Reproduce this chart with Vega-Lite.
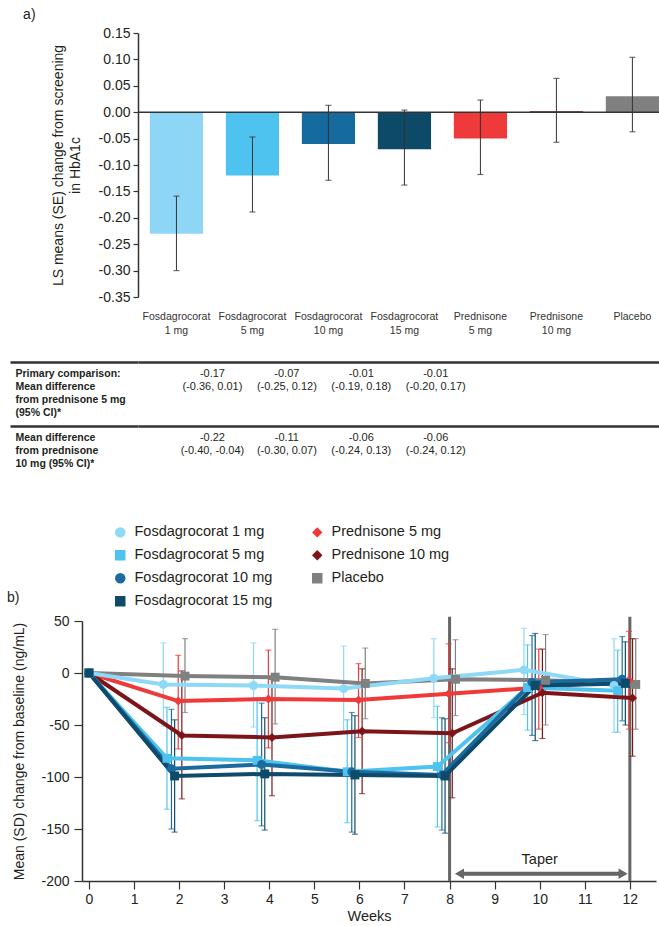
{
  "$schema": "https://vega.github.io/schema/vega-lite/v6.json",
  "background": "white",
  "padding": {"left": 6, "top": 8, "right": 0, "bottom": 0},
  "spacing": -13,
  "config": {
    "font": "Liberation Sans",
    "view": {"stroke": null},
    "axis": {"labelColor": "#231f20", "titleColor": "#231f20", "domainColor": "#333333", "tickColor": "#333333", "grid": false, "titleFontWeight": "normal", "labelFontSize": 14, "titleFontSize": 14, "labelOverlap": false},
    "title": {"color": "#231f20", "fontWeight": "normal", "fontSize": 14}
  },
  "resolve": {"scale": {"x": "independent", "y": "independent", "color": "independent", "shape": "independent"}},
  "vconcat": [
    {
      "width": 521,
      "height": 264,
      "title": {"text": "a)", "anchor": "start", "frame": "bounds", "dx": -28, "offset": 4},
      "data": {"values": [
        {"cat": "Fosdagrocorat 1 mg", "mean": -0.23, "lo": -0.30, "hi": -0.159},
        {"cat": "Fosdagrocorat 5 mg", "mean": -0.12, "lo": -0.189, "hi": -0.047},
        {"cat": "Fosdagrocorat 10 mg", "mean": -0.06, "lo": -0.129, "hi": 0.013},
        {"cat": "Fosdagrocorat 15 mg", "mean": -0.07, "lo": -0.138, "hi": 0.004},
        {"cat": "Prednisone 5 mg", "mean": -0.05, "lo": -0.118, "hi": 0.023},
        {"cat": "Prednisone 10 mg", "mean": 0.002, "lo": -0.057, "hi": 0.064},
        {"cat": "Placebo", "mean": 0.03, "lo": -0.037, "hi": 0.104}
      ]},
      "encoding": {
        "x": {"field": "cat", "type": "nominal", "sort": null,
          "scale": {"domain": ["Fosdagrocorat 1 mg", "Fosdagrocorat 5 mg", "Fosdagrocorat 10 mg", "Fosdagrocorat 15 mg", "Prednisone 5 mg", "Prednisone 10 mg", "Placebo"], "paddingInner": 0.3, "paddingOuter": 0.078, "align": 1},
          "axis": {"title": null, "domain": false, "ticks": false, "labelAngle": 0, "labelPadding": 14, "labelFontSize": 10.5, "labelLineHeight": 14, "labelOverlap": false, "labelColor": "#333333",
            "labelExpr": "indexof(datum.label, ' ') > 0 ? [substring(datum.label, 0, indexof(datum.label, ' ')), substring(datum.label, indexof(datum.label, ' ') + 1)] : datum.label"}}
      },
      "layer": [
        {
          "mark": {"type": "bar"},
          "encoding": {
            "y": {"field": "mean", "type": "quantitative",
              "scale": {"domain": [-0.35, 0.15], "nice": false, "zero": false},
              "axis": {"title": ["LS means (SE) change from screening", "in HbA1c"], "titleLineHeight": 17, "titlePadding": 16,
                "values": [0.15, 0.1, 0.05, 0, -0.05, -0.1, -0.15, -0.2, -0.25, -0.3, -0.35], "labelOverlap": false, "labelSeparation": 0,
                "labelExpr": "(datum.value < -0.001 ? '-' : '') + format(abs(datum.value), '.2f')",
                "tickSize": 5, "labelPadding": 3, "domainWidth": 1.5, "tickWidth": 1.2}},
            "color": {"field": "cat", "type": "nominal",
              "scale": {"domain": ["Fosdagrocorat 1 mg", "Fosdagrocorat 5 mg", "Fosdagrocorat 10 mg", "Fosdagrocorat 15 mg", "Prednisone 5 mg", "Prednisone 10 mg", "Placebo"],
                "range": ["#8ed6f5", "#4fc3ef", "#156a9e", "#0d4a67", "#ee3a3b", "#7d1518", "#808080"]},
              "legend": null}
          }
        },
        {
          "data": {"values": [{"zero": 0}]},
          "mark": {"type": "rule", "color": "#333333", "strokeWidth": 1.5},
          "encoding": {"x": null, "y": {"field": "zero", "type": "quantitative",
              "axis": {"title": ["LS means (SE) change from screening", "in HbA1c"], "titleLineHeight": 17, "titlePadding": 16,
                "values": [0.15, 0.1, 0.05, 0, -0.05, -0.1, -0.15, -0.2, -0.25, -0.3, -0.35], "labelOverlap": false, "labelSeparation": 0,
                "labelExpr": "(datum.value < -0.001 ? '-' : '') + format(abs(datum.value), '.2f')",
                "tickSize": 5, "labelPadding": 3, "domainWidth": 1.5, "tickWidth": 1.2}}}
        },
        {
          "mark": {"type": "rule", "color": "#333333", "strokeWidth": 1},
          "encoding": {"y": {"field": "lo", "type": "quantitative",
              "axis": {"title": ["LS means (SE) change from screening", "in HbA1c"], "titleLineHeight": 17, "titlePadding": 16,
                "values": [0.15, 0.1, 0.05, 0, -0.05, -0.1, -0.15, -0.2, -0.25, -0.3, -0.35], "labelOverlap": false, "labelSeparation": 0,
                "labelExpr": "(datum.value < -0.001 ? '-' : '') + format(abs(datum.value), '.2f')",
                "tickSize": 5, "labelPadding": 3, "domainWidth": 1.5, "tickWidth": 1.2}}, "y2": {"field": "hi"}}
        },
        {
          "mark": {"type": "tick", "orient": "horizontal", "size": 6, "thickness": 1.2, "color": "#333333"},
          "encoding": {"y": {"field": "lo", "type": "quantitative",
              "axis": {"title": ["LS means (SE) change from screening", "in HbA1c"], "titleLineHeight": 17, "titlePadding": 16,
                "values": [0.15, 0.1, 0.05, 0, -0.05, -0.1, -0.15, -0.2, -0.25, -0.3, -0.35], "labelOverlap": false, "labelSeparation": 0,
                "labelExpr": "(datum.value < -0.001 ? '-' : '') + format(abs(datum.value), '.2f')",
                "tickSize": 5, "labelPadding": 3, "domainWidth": 1.5, "tickWidth": 1.2}}}
        },
        {
          "mark": {"type": "tick", "orient": "horizontal", "size": 6, "thickness": 1.2, "color": "#333333"},
          "encoding": {"y": {"field": "hi", "type": "quantitative",
              "axis": {"title": ["LS means (SE) change from screening", "in HbA1c"], "titleLineHeight": 17, "titlePadding": 16,
                "values": [0.15, 0.1, 0.05, 0, -0.05, -0.1, -0.15, -0.2, -0.25, -0.3, -0.35], "labelOverlap": false, "labelSeparation": 0,
                "labelExpr": "(datum.value < -0.001 ? '-' : '') + format(abs(datum.value), '.2f')",
                "tickSize": 5, "labelPadding": 3, "domainWidth": 1.5, "tickWidth": 1.2}}}
        }
      ]
    },
    {
      "width": 326,
      "height": 202,
      "view": {"fill": "white", "stroke": null},
      "data": {"values": [
        {"cat": "Fosdagrocorat 1 mg", "row": "Primary comparison:|Mean difference|from prednisone 5 mg|(95% CI)*", "text": "-0.17\n(-0.36, 0.01)"},
        {"cat": "Fosdagrocorat 5 mg", "row": "Primary comparison:|Mean difference|from prednisone 5 mg|(95% CI)*", "text": "-0.07\n(-0.25, 0.12)"},
        {"cat": "Fosdagrocorat 10 mg", "row": "Primary comparison:|Mean difference|from prednisone 5 mg|(95% CI)*", "text": "-0.01\n(-0.19, 0.18)"},
        {"cat": "Fosdagrocorat 15 mg", "row": "Primary comparison:|Mean difference|from prednisone 5 mg|(95% CI)*", "text": "-0.01\n(-0.20, 0.17)"},
        {"cat": "Fosdagrocorat 1 mg", "row": "Mean difference|from prednisone|10 mg (95% CI)*", "text": "-0.22\n(-0.40, -0.04)"},
        {"cat": "Fosdagrocorat 5 mg", "row": "Mean difference|from prednisone|10 mg (95% CI)*", "text": "-0.11\n(-0.30, 0.07)"},
        {"cat": "Fosdagrocorat 10 mg", "row": "Mean difference|from prednisone|10 mg (95% CI)*", "text": "-0.06\n(-0.24, 0.13)"},
        {"cat": "Fosdagrocorat 15 mg", "row": "Mean difference|from prednisone|10 mg (95% CI)*", "text": "-0.06\n(-0.24, 0.12)"}
      ]},
      "mark": {"type": "text", "align": "center", "baseline": "top", "dy": 6, "fontSize": 11, "lineHeight": 13, "lineBreak": "\n", "color": "#231f20"},
      "encoding": {
        "x": {"field": "cat", "type": "nominal", "sort": null,
          "scale": {"domain": ["Fosdagrocorat 1 mg", "Fosdagrocorat 5 mg", "Fosdagrocorat 10 mg", "Fosdagrocorat 15 mg", "Prednisone 5 mg", "Prednisone 10 mg", "Placebo"], "range": [0, 521], "paddingInner": 0.3, "paddingOuter": 0.078, "align": 1},
          "axis": null},
        "y": {"field": "row", "type": "nominal", "sort": null, "bandPosition": 0,
          "scale": {"domain": ["Primary comparison:|Mean difference|from prednisone 5 mg|(95% CI)*", "Mean difference|from prednisone|10 mg (95% CI)*"], "range": [-6, 122], "paddingInner": 0, "paddingOuter": 0},
          "axis": {"orient": "left", "title": null, "bandPosition": 0, "domain": false, "ticks": true, "tickSize": 128, "tickWidth": 2.5, "tickColor": "#333333",
            "grid": true, "gridWidth": 2.5, "gridColor": "#333333", "labelAlign": "left", "labelBaseline": "top", "labelPadding": -5, "labelOffset": 6,
            "labelFontWeight": "bold", "labelFontSize": 10.5, "labelLineHeight": 13, "labelLimit": 0, "labelOverlap": false,
            "labelExpr": "split(datum.label, '|')"}},
        "text": {"field": "text"}
      }
    },
    {
      "width": 521,
      "height": 260,
      "title": {"text": "b)", "anchor": "start", "frame": "bounds", "dy": 84, "dx": -6, "offset": 4},
      "data": {"values": [
        {"series": "Placebo", "week": 0, "mean": 0, "lo": null, "hi": null},
        {"series": "Placebo", "week": 2.13, "mean": -3, "lo": -38, "hi": 33},
        {"series": "Placebo", "week": 4.13, "mean": -4, "lo": -49, "hi": 42},
        {"series": "Placebo", "week": 6.13, "mean": -10, "lo": -44, "hi": 24},
        {"series": "Placebo", "week": 8.13, "mean": -6, "lo": -41, "hi": 32},
        {"series": "Placebo", "week": 10.13, "mean": -7, "lo": -50, "hi": 37},
        {"series": "Placebo", "week": 12.13, "mean": -11, "lo": -54, "hi": 33},
        {"series": "Prednisone 5 mg", "week": 0, "mean": 0, "lo": null, "hi": null},
        {"series": "Prednisone 5 mg", "week": 1.98, "mean": -27, "lo": -73, "hi": 17},
        {"series": "Prednisone 5 mg", "week": 3.98, "mean": -25, "lo": -72, "hi": 22},
        {"series": "Prednisone 5 mg", "week": 5.98, "mean": -26, "lo": -62, "hi": 9},
        {"series": "Prednisone 5 mg", "week": 7.98, "mean": -20, "lo": -67, "hi": 28},
        {"series": "Prednisone 5 mg", "week": 9.98, "mean": -14, "lo": -54, "hi": 23},
        {"series": "Prednisone 5 mg", "week": 11.98, "mean": -7, "lo": -54, "hi": 40},
        {"series": "Prednisone 10 mg", "week": 0, "mean": 0, "lo": null, "hi": null},
        {"series": "Prednisone 10 mg", "week": 2.06, "mean": -60, "lo": -121, "hi": 2},
        {"series": "Prednisone 10 mg", "week": 4.06, "mean": -62, "lo": -118, "hi": -6},
        {"series": "Prednisone 10 mg", "week": 6.06, "mean": -56, "lo": -116, "hi": 4},
        {"series": "Prednisone 10 mg", "week": 8.06, "mean": -58, "lo": -120, "hi": 4},
        {"series": "Prednisone 10 mg", "week": 10.06, "mean": -19, "lo": -63, "hi": 23},
        {"series": "Prednisone 10 mg", "week": 12.06, "mean": -24, "lo": -80, "hi": 33},
        {"series": "Fosdagrocorat 1 mg", "week": 0, "mean": 0, "lo": null, "hi": null},
        {"series": "Fosdagrocorat 1 mg", "week": 1.65, "mean": -11, "lo": -51, "hi": 29},
        {"series": "Fosdagrocorat 1 mg", "week": 3.65, "mean": -12, "lo": -52, "hi": 29},
        {"series": "Fosdagrocorat 1 mg", "week": 5.65, "mean": -15, "lo": -56, "hi": 26},
        {"series": "Fosdagrocorat 1 mg", "week": 7.65, "mean": -5, "lo": -43, "hi": 33},
        {"series": "Fosdagrocorat 1 mg", "week": 9.65, "mean": 3, "lo": -40, "hi": 43},
        {"series": "Fosdagrocorat 1 mg", "week": 11.65, "mean": -12, "lo": -57, "hi": 33},
        {"series": "Fosdagrocorat 5 mg", "week": 0, "mean": 0, "lo": null, "hi": null},
        {"series": "Fosdagrocorat 5 mg", "week": 1.73, "mean": -82, "lo": -131, "hi": -33},
        {"series": "Fosdagrocorat 5 mg", "week": 3.73, "mean": -84, "lo": -142, "hi": -26},
        {"series": "Fosdagrocorat 5 mg", "week": 5.73, "mean": -95, "lo": -144, "hi": -45},
        {"series": "Fosdagrocorat 5 mg", "week": 7.73, "mean": -90, "lo": -148, "hi": -32},
        {"series": "Fosdagrocorat 5 mg", "week": 9.73, "mean": -14, "lo": -55, "hi": 27},
        {"series": "Fosdagrocorat 5 mg", "week": 11.73, "mean": -17, "lo": -57, "hi": 22},
        {"series": "Fosdagrocorat 10 mg", "week": 0, "mean": 0, "lo": null, "hi": null},
        {"series": "Fosdagrocorat 10 mg", "week": 1.83, "mean": -92, "lo": -150, "hi": -35},
        {"series": "Fosdagrocorat 10 mg", "week": 3.83, "mean": -88, "lo": -147, "hi": -29},
        {"series": "Fosdagrocorat 10 mg", "week": 5.83, "mean": -95, "lo": -153, "hi": -38},
        {"series": "Fosdagrocorat 10 mg", "week": 7.83, "mean": -98, "lo": -151, "hi": -43},
        {"series": "Fosdagrocorat 10 mg", "week": 9.83, "mean": -9, "lo": -60, "hi": 36},
        {"series": "Fosdagrocorat 10 mg", "week": 11.83, "mean": -6, "lo": -46, "hi": 35},
        {"series": "Fosdagrocorat 15 mg", "week": 0, "mean": 0, "lo": null, "hi": null},
        {"series": "Fosdagrocorat 15 mg", "week": 1.9, "mean": -99, "lo": -153, "hi": -45},
        {"series": "Fosdagrocorat 15 mg", "week": 3.9, "mean": -97, "lo": -151, "hi": -43},
        {"series": "Fosdagrocorat 15 mg", "week": 5.9, "mean": -98, "lo": -155, "hi": -41},
        {"series": "Fosdagrocorat 15 mg", "week": 7.9, "mean": -99, "lo": -154, "hi": -44},
        {"series": "Fosdagrocorat 15 mg", "week": 9.9, "mean": -12, "lo": -65, "hi": 38},
        {"series": "Fosdagrocorat 15 mg", "week": 11.9, "mean": -10, "lo": -50, "hi": 30}
      ]},
      "layer": [
        {
          "data": {"values": [{"week": 8}, {"week": 12}]},
          "mark": {"type": "rule", "color": "#666666", "strokeWidth": 3},
          "encoding": {
            "x": {"field": "week", "type": "quantitative"},
            "y": {"datum": -200, "type": "quantitative"},
            "y2": {"datum": 54}
          }
        },
        {
          "mark": {"type": "rule", "strokeWidth": 1.2},
          "encoding": {
            "x": {"field": "week", "type": "quantitative"},
            "y": {"field": "lo", "type": "quantitative"},
            "y2": {"field": "hi"},
            "stroke": {"field": "series", "type": "nominal",
              "scale": {"domain": ["Fosdagrocorat 1 mg", "Fosdagrocorat 5 mg", "Fosdagrocorat 10 mg", "Fosdagrocorat 15 mg", "Prednisone 5 mg", "Prednisone 10 mg", "Placebo"],
                "range": ["#8ed8f8", "#4fc3ef", "#1b6b9f", "#0e4a69", "#ee3a39", "#7d1518", "#808080"]},
              "legend": null}
          }
        },
        {
          "mark": {"type": "tick", "orient": "horizontal", "size": 6, "thickness": 1.2},
          "encoding": {
            "x": {"field": "week", "type": "quantitative"},
            "y": {"field": "lo", "type": "quantitative"},
            "fill": {"field": "series", "type": "nominal",
              "scale": {"domain": ["Fosdagrocorat 1 mg", "Fosdagrocorat 5 mg", "Fosdagrocorat 10 mg", "Fosdagrocorat 15 mg", "Prednisone 5 mg", "Prednisone 10 mg", "Placebo"],
                "range": ["#8ed8f8", "#4fc3ef", "#1b6b9f", "#0e4a69", "#ee3a39", "#7d1518", "#808080"]},
              "legend": null}
          }
        },
        {
          "mark": {"type": "tick", "orient": "horizontal", "size": 6, "thickness": 1.2},
          "encoding": {
            "x": {"field": "week", "type": "quantitative"},
            "y": {"field": "hi", "type": "quantitative"},
            "fill": {"field": "series", "type": "nominal", "legend": null}
          }
        },
        {
          "mark": {"type": "line", "strokeWidth": 4},
          "encoding": {
            "x": {"field": "week", "type": "quantitative",
              "scale": {"domain": [-0.155, 12.58], "range": [-56, 518], "nice": false, "zero": false},
              "axis": {"title": "Weeks", "values": [0, 1, 2, 3, 4, 5, 6, 7, 8, 9, 10, 11, 12], "format": "d", "tickSize": 8, "labelPadding": 3, "titlePadding": 3, "titleFontSize": 14.5, "domainWidth": 1.5, "tickWidth": 1.2}},
            "y": {"field": "mean", "type": "quantitative",
              "scale": {"domain": [-200, 50], "nice": false, "zero": false},
              "axis": {"title": "Mean (SD) change from baseline (ng/mL)", "offset": 56, "values": [50, 0, -50, -100, -150, -200],
                "labelExpr": "(datum.value < 0 ? '-' : '') + abs(datum.value)", "tickSize": 8, "labelPadding": 5, "titlePadding": 14, "domainWidth": 1.5, "tickWidth": 1.2}},
            "stroke": {"field": "series", "type": "nominal", "legend": null}
          }
        },
        {
          "mark": {"type": "point", "filled": true, "size": 80, "opacity": 1},
          "encoding": {
            "x": {"field": "week", "type": "quantitative"},
            "y": {"field": "mean", "type": "quantitative"},
            "color": {"field": "series", "type": "nominal",
              "scale": {"domain": ["Fosdagrocorat 1 mg", "Fosdagrocorat 5 mg", "Fosdagrocorat 10 mg", "Fosdagrocorat 15 mg", "Prednisone 5 mg", "Prednisone 10 mg", "Placebo"],
                "range": ["#8ed8f8", "#4fc3ef", "#1b6b9f", "#0e4a69", "#ee3a39", "#7d1518", "#808080"]},
              "legend": {"title": null, "orient": "none", "legendX": -25, "legendY": -96, "columns": 2, "columnPadding": 37, "rowPadding": 8, "labelFontSize": 14.5, "labelColor": "#231f20", "symbolSize": 110, "labelOffset": 7, "padding": 0, "labelLimit": 0}},
            "shape": {"field": "series", "type": "nominal",
              "scale": {"domain": ["Fosdagrocorat 1 mg", "Fosdagrocorat 5 mg", "Fosdagrocorat 10 mg", "Fosdagrocorat 15 mg", "Prednisone 5 mg", "Prednisone 10 mg", "Placebo"],
                "range": ["circle", "square", "circle", "square", "diamond", "diamond", "square"]},
              "legend": {"title": null, "orient": "none", "legendX": -25, "legendY": -96, "columns": 2, "columnPadding": 37, "rowPadding": 8, "labelFontSize": 14.5, "labelColor": "#231f20", "symbolSize": 110, "labelOffset": 7, "padding": 0, "labelLimit": 0}}
          }
        },
        {
          "data": {"values": [{"phase": "Taper", "from": 8.25, "to": 11.8, "level": -193}]},
          "mark": {"type": "rule", "color": "#666666", "strokeWidth": 4},
          "encoding": {
            "x": {"field": "from", "type": "quantitative"},
            "x2": {"field": "to"},
            "y": {"field": "level", "type": "quantitative"}
          }
        },
        {
          "data": {"values": [{"phase": "Taper", "at": 8.22, "level": -193}]},
          "mark": {"type": "point", "shape": "triangle-left", "filled": true, "size": 110, "color": "#666666", "opacity": 1},
          "encoding": {
            "x": {"field": "at", "type": "quantitative"},
            "y": {"field": "level", "type": "quantitative"}
          }
        },
        {
          "data": {"values": [{"phase": "Taper", "at": 11.85, "level": -193}]},
          "mark": {"type": "point", "shape": "triangle-right", "filled": true, "size": 110, "color": "#666666", "opacity": 1},
          "encoding": {
            "x": {"field": "at", "type": "quantitative"},
            "y": {"field": "level", "type": "quantitative"}
          }
        },
        {
          "data": {"values": [{"phase": "Taper", "mid": 10, "level": -180}]},
          "mark": {"type": "text", "fontSize": 14.5, "color": "#231f20", "baseline": "middle"},
          "encoding": {
            "x": {"field": "mid", "type": "quantitative"},
            "y": {"field": "level", "type": "quantitative"},
            "text": {"field": "phase"}
          }
        }
      ]
    }
  ]
}
